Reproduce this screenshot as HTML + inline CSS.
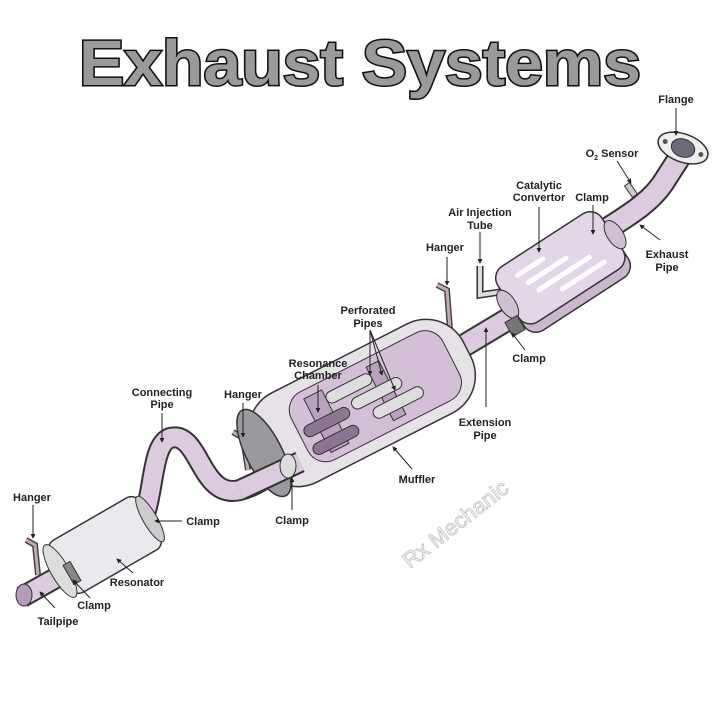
<!DOCTYPE html>
<html><head><meta charset="utf-8"><style>
html,body{margin:0;padding:0;background:#fff}
svg{display:block}
.l{font-family:"Liberation Sans",sans-serif;font-weight:bold;font-size:11px;fill:#222;text-anchor:middle}
.ld{stroke:#222;stroke-width:1;fill:none}
</style></head><body>
<svg width="720" height="720" viewBox="0 0 720 720" xmlns="http://www.w3.org/2000/svg">
<defs>
<marker id="a" viewBox="0 0 6 6" refX="5" refY="3" markerWidth="5" markerHeight="5" orient="auto"><path d="M0,0L6,3L0,6z" fill="#222"/></marker>
</defs>
<rect width="720" height="720" fill="#fff"/>
<!-- title -->
<text x="360" y="85" text-anchor="middle" font-family="Liberation Sans,sans-serif" font-weight="bold" font-size="64" textLength="562" lengthAdjust="spacingAndGlyphs" fill="#9a9a9a" stroke="#111" stroke-width="3" paint-order="stroke">Exhaust Systems</text>

<!-- exhaust pipe to flange -->
<path d="M590,240 C620,220 650,205 665,180 L683,152" stroke="#333" stroke-width="24" fill="none" stroke-linecap="round"/>
<path d="M590,240 C620,220 650,205 665,180 L683,152" stroke="#dccbdf" stroke-width="20" fill="none" stroke-linecap="round"/>
<g transform="translate(683,148) rotate(20)"><ellipse rx="26" ry="14" fill="#eee" stroke="#333" stroke-width="1.5"/><ellipse rx="12" ry="9" fill="#6a6a7a" stroke="#333"/><circle cx="-19" cy="0" r="2.5" fill="#555"/><circle cx="19" cy="0" r="2.5" fill="#555"/></g>
<rect x="628" y="183" width="6" height="14" transform="rotate(-35 631 190)" fill="#ccc" stroke="#333"/>

<!-- extension pipe muffler->cat -->
<path d="M440,360 L540,300" stroke="#333" stroke-width="24" fill="none"/>
<path d="M440,360 L540,300" stroke="#dccbdf" stroke-width="20" fill="none"/>
<!-- air injection tube -->
<path d="M480,266 L480,295 L500,292" stroke="#333" stroke-width="7" fill="none"/>
<path d="M480,266 L480,295 L500,292" stroke="#ddd" stroke-width="4" fill="none"/>
<!-- hanger -->
<path d="M437,285 L447,290 L450,330" stroke="#444" stroke-width="6" fill="none"/>
<path d="M437,285 L447,290 L450,330" stroke="#c9a9b8" stroke-width="3" fill="none"/>

<!-- catalytic converter -->
<g transform="translate(563,272) rotate(-33)">
<rect x="-62" y="-34" width="124" height="72" rx="14" fill="#cbb8cf" stroke="#333" stroke-width="1.5"/>
<rect x="-62" y="-38" width="124" height="66" rx="14" fill="#e3d6e6" stroke="#333" stroke-width="1.5"/>
<g stroke="#fff" stroke-width="5" stroke-linecap="round"><line x1="-40" y1="-22" x2="-10" y2="-22"/><line x1="-35" y1="-10" x2="10" y2="-10"/><line x1="-30" y1="2" x2="30" y2="2"/><line x1="-10" y1="14" x2="40" y2="14"/></g>
<ellipse cx="-64" cy="-3" rx="8" ry="16" fill="#cfc0d3" stroke="#333"/>
<ellipse cx="64" cy="-3" rx="8" ry="16" fill="#cfc0d3" stroke="#333"/>
</g>
<rect x="508" y="318" width="14" height="16" fill="#777" stroke="#333" transform="rotate(-30 515 326)"/>

<!-- connecting S pipe -->
<path d="M140,525 C155,500 150,445 170,438 C200,430 200,500 240,490 C260,485 275,470 300,460" stroke="#333" stroke-width="22" fill="none"/>
<path d="M140,525 C155,500 150,445 170,438 C200,430 200,500 240,490 C260,485 275,470 300,460" stroke="#dccbdf" stroke-width="18" fill="none"/>
<!-- hangers -->
<path d="M233,432 L243,438 L248,470" stroke="#444" stroke-width="6" fill="none"/>
<path d="M233,432 L243,438 L248,470" stroke="#c9a9b8" stroke-width="3" fill="none"/>
<path d="M26,540 L35,545 L38,575" stroke="#444" stroke-width="6" fill="none"/>
<path d="M26,540 L35,545 L38,575" stroke="#c9a9b8" stroke-width="3" fill="none"/>

<!-- muffler -->
<g transform="translate(362,403) rotate(-27)">
<rect x="-118" y="-50" width="236" height="100" rx="42" fill="#e6e2e8" stroke="#333" stroke-width="1.5"/>
<rect x="-70" y="-38" width="170" height="76" rx="20" fill="#d4c0d6" stroke="#333"/>
<rect x="-50" y="-30" width="20" height="60" fill="#b9a2bd" stroke="#333"/>
<rect x="20" y="-30" width="14" height="60" fill="#b9a2bd" stroke="#333"/>
<rect x="-30" y="-25" width="50" height="12" rx="6" fill="#ddd" stroke="#333"/>
<rect x="-10" y="-8" width="55" height="12" rx="6" fill="#ddd" stroke="#333"/>
<rect x="5" y="10" width="55" height="12" rx="6" fill="#ddd" stroke="#333"/>
<rect x="-65" y="-5" width="50" height="12" rx="6" fill="#8c7590" stroke="#333"/>
<rect x="-65" y="15" width="50" height="12" rx="6" fill="#8c7590" stroke="#333"/>
<ellipse cx="-110" cy="0" rx="18" ry="48" fill="#9a9a9e" stroke="#333" stroke-width="1.5"/>
</g>
<path d="M240,490 L300,462" stroke="#333" stroke-width="22" fill="none"/>
<path d="M240,490 L300,462" stroke="#dccbdf" stroke-width="18" fill="none"/>
<ellipse cx="288" cy="466" rx="8" ry="12" fill="#ddd" stroke="#333"/>

<!-- resonator + tailpipe -->
<path d="M22,597 L70,570" stroke="#333" stroke-width="22" fill="none"/>
<path d="M22,597 L70,570" stroke="#dccbdf" stroke-width="18" fill="none"/>
<ellipse cx="24" cy="595" rx="8" ry="11" fill="#b59cbb" stroke="#333"/>
<g transform="translate(105,545) rotate(-30)">
<rect x="-52" y="-30" width="104" height="60" rx="10" fill="#ebe8ee" stroke="#333" stroke-width="1.5"/>
<ellipse cx="-52" cy="0" rx="9" ry="30" fill="#ddd" stroke="#333"/>
<ellipse cx="52" cy="0" rx="7" ry="26" fill="#ccc" stroke="#333"/>
</g>
<rect x="68" y="562" width="8" height="22" fill="#888" stroke="#333" transform="rotate(-30 72 573)"/>

<!-- leader lines -->
<g class="ld" marker-end="url(#a)">
<line x1="676" y1="108" x2="676" y2="135"/>
<line x1="617" y1="161" x2="631" y2="183"/>
<line x1="539" y1="207" x2="539" y2="252"/>
<line x1="593" y1="205" x2="593" y2="234"/>
<line x1="480" y1="232" x2="480" y2="263"/>
<line x1="447" y1="257" x2="447" y2="285"/>
<line x1="660" y1="240" x2="640" y2="225"/>
<line x1="525" y1="350" x2="512" y2="333"/>
<line x1="486" y1="407" x2="486" y2="328"/>
<line x1="370" y1="330" x2="370" y2="375"/>
<line x1="370" y1="330" x2="382" y2="375"/>
<line x1="370" y1="330" x2="395" y2="390"/>
<line x1="318" y1="385" x2="318" y2="412"/>
<line x1="243" y1="403" x2="243" y2="437"/>
<line x1="162" y1="413" x2="162" y2="442"/>
<line x1="412" y1="469" x2="393" y2="447"/>
<line x1="292" y1="510" x2="292" y2="478"/>
<line x1="182" y1="521" x2="155" y2="521"/>
<line x1="33" y1="505" x2="33" y2="538"/>
<line x1="133" y1="573" x2="117" y2="559"/>
<line x1="90" y1="598" x2="73" y2="580"/>
<line x1="55" y1="608" x2="40" y2="592"/>
</g>

<!-- labels -->
<text class="l" x="676" y="103">Flange</text>
<text class="l" x="612" y="157">O<tspan font-size="7" dy="3">2</tspan><tspan dy="-3"> Sensor</tspan></text>
<text class="l" x="539" y="189">Catalytic</text>
<text class="l" x="539" y="201">Convertor</text>
<text class="l" x="592" y="201">Clamp</text>
<text class="l" x="480" y="216">Air Injection</text>
<text class="l" x="480" y="229">Tube</text>
<text class="l" x="445" y="251">Hanger</text>
<text class="l" x="667" y="258">Exhaust</text>
<text class="l" x="667" y="271">Pipe</text>
<text class="l" x="529" y="362">Clamp</text>
<text class="l" x="368" y="314">Perforated</text>
<text class="l" x="368" y="327">Pipes</text>
<text class="l" x="318" y="367">Resonance</text>
<text class="l" x="318" y="379">Chamber</text>
<text class="l" x="485" y="426">Extension</text>
<text class="l" x="485" y="439">Pipe</text>
<text class="l" x="243" y="398">Hanger</text>
<text class="l" x="162" y="396">Connecting</text>
<text class="l" x="162" y="408">Pipe</text>
<text class="l" x="417" y="483">Muffler</text>
<text class="l" x="292" y="524">Clamp</text>
<text class="l" x="203" y="525">Clamp</text>
<text class="l" x="32" y="501">Hanger</text>
<text class="l" x="137" y="586">Resonator</text>
<text class="l" x="94" y="609">Clamp</text>
<text class="l" x="58" y="625">Tailpipe</text>
<text x="460" y="530" transform="rotate(-38 460 530)" text-anchor="middle" font-family="Liberation Sans,sans-serif" font-size="22" fill="none" stroke="#c8c8c8" stroke-width="1">Rx Mechanic</text>
</svg>
</body></html>
